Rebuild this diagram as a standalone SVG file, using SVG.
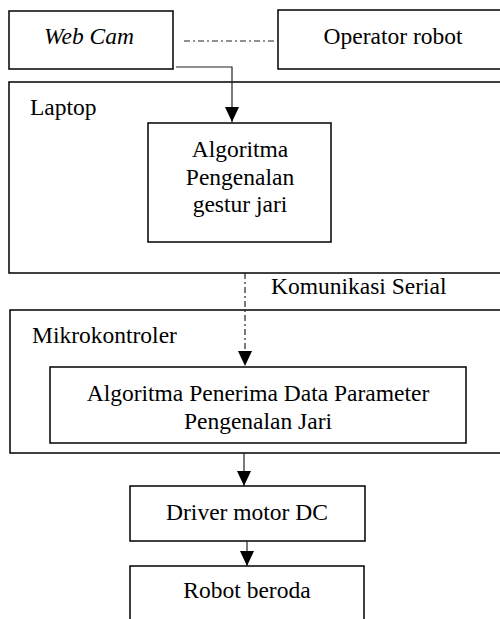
<svg xmlns="http://www.w3.org/2000/svg" width="500" height="619" viewBox="0 0 500 619">
<style>
.box{fill:none;stroke:#000;stroke-width:1.5}
text{font-family:"Liberation Serif","Times New Roman","DejaVu Serif",serif;font-size:23.5px;fill:#000}
.c{text-anchor:middle}
.ln{fill:none;stroke:#222;stroke-width:1.2}
.dd{stroke-dasharray:6 3 2 3}
</style>
<defs>
<marker id="ah" viewBox="0 0 15 14" refX="15" refY="7" markerWidth="15" markerHeight="14" markerUnits="userSpaceOnUse" orient="auto">
<path d="M0,0 L15,7 L0,14 Z" fill="#000"/>
</marker>
</defs>
<g id="webcam"><rect class="box" x="9" y="11" width="164" height="58"/><text class="c" x="89" y="44" font-style="italic">Web Cam</text></g>
<g id="operator"><rect class="box" x="278" y="10" width="230" height="59"/><text class="c" x="393" y="44">Operator robot</text></g>
<g id="laptop"><rect class="box" x="9" y="82" width="500" height="191"/><text x="30" y="115">Laptop</text></g>
<g id="algo1"><rect class="box" x="148" y="123" width="183" height="119"/><text class="c" x="240" y="157">Algoritma</text><text class="c" x="240" y="185">Pengenalan</text><text class="c" x="240" y="212">gestur jari</text></g>
<g id="serial-label"><text x="271" y="294">Komunikasi Serial</text></g>
<g id="mikro"><rect class="box" x="10" y="310" width="500" height="143"/><text x="32" y="343">Mikrokontroler</text></g>
<g id="algo2"><rect class="box" x="50" y="367" width="416" height="76"/><text class="c" x="258" y="401">Algoritma Penerima Data Parameter</text><text class="c" x="258" y="429">Pengenalan Jari</text></g>
<g id="driver"><rect class="box" x="130" y="486" width="235" height="55"/><text class="c" x="247" y="520">Driver motor DC</text></g>
<g id="robot"><rect class="box" x="130" y="566" width="234" height="60"/><text class="c" x="247" y="598">Robot beroda</text></g>
<g id="connectors">
<line class="ln dd" x1="184" y1="41" x2="278" y2="41"/>
<polyline class="ln" points="176,67 232,67 232,122" marker-end="url(#ah)"/>
<line class="ln dd" x1="245" y1="273" x2="245" y2="366" marker-end="url(#ah)"/>
<line class="ln" x1="244" y1="453" x2="244" y2="486" marker-end="url(#ah)"/>
<line class="ln" x1="247" y1="541" x2="247" y2="566" marker-end="url(#ah)"/>
</g>
</svg>
